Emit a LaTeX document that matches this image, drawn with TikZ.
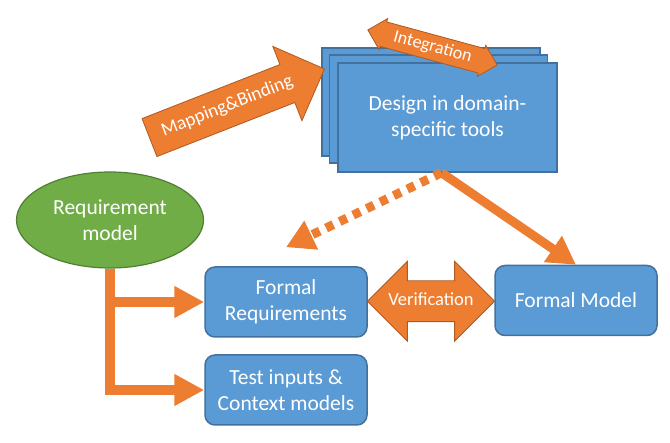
\documentclass[tikz,border=0pt]{standalone}
\usepackage{fontspec}
\setmainfont{Carlito}
\usetikzlibrary{positioning,arrows.meta,shapes.geometric,shapes.arrows,calc}
\definecolor{boxblue}{HTML}{5B9BD5}
\definecolor{boxline}{HTML}{41719C}
\definecolor{flow}{HTML}{ED7D31}
\definecolor{flowline}{HTML}{AE5A21}
\definecolor{reqgreen}{HTML}{70AD47}
\definecolor{reqline}{HTML}{507E32}
\tikzset{
    blk/.style={rectangle,draw=boxline,line width=1.5pt,fill=boxblue,rounded corners=10pt,minimum width=162pt,minimum height=70pt,align=center,text=white,font=\fontsize{21.5}{26}\selectfont},
    stack/.style={rectangle,draw=boxline,line width=1.5pt,fill=boxblue,minimum width=218pt,minimum height=108pt,inner sep=0pt},
    reqell/.style={ellipse,draw=reqline,line width=1.2pt,fill=reqgreen,minimum width=187pt,minimum height=96pt,align=center,text=white,font=\fontsize{21.5}{26}\selectfont},
    bigarr/.style={single arrow,draw=flowline,line width=0.8pt,fill=flow,text=white,single arrow head indent=0pt,inner xsep=0pt},
    dblarr/.style={double arrow,draw=flowline,line width=0.8pt,fill=flow,text=white,double arrow head indent=0pt,inner xsep=0pt},
    flowarr/.style={draw=flow,line width=10pt,-{Triangle[length=30pt,width=30pt]}},
}

\begin{document}
\begin{tikzpicture}[x=1pt,y=-1pt]
\useasboundingbox (0,0) rectangle (670,443);
% tool stack
\node[stack] (toolsback) at (431,102) {};
\node[stack] (toolsmid)  at (438.5,109) {};
\node[stack,minimum width=219pt,minimum height=109pt,align=center,text=white,font=\fontsize{21.5}{26}\selectfont] (tools) at (447.5,117.5) {Design in domain-\\specific tools};
\node[bigarr,rotate=21.4,minimum height=188pt,single arrow head extend=19.5pt,font=\fontsize{19}{22}\selectfont,text height=13pt,text depth=4.5pt,inner ysep=11.25pt] (mapbind) at (227.5,107) {Mapping\&Binding};
\node[dblarr,rotate=-15.2,minimum height=134pt,double arrow head extend=3.5pt,font=\fontsize{18}{21}\selectfont,text height=12.5pt,text depth=4pt,inner ysep=4pt] (integ) at (432.5,47.5) {Integration};
% requirements side
\node[reqell] (req)    at (110,220) {Requirement\\model};
\node[blk]    (freq)   at (286,302) {Formal\\Requirements};
\node[blk]    (test)   at (286,390) {Test inputs \&\\Context models};
\node[blk]    (fmodel) at (576,300.5) {Formal Model};
\node[dblarr,minimum height=126pt,double arrow head extend=19.5pt,font=\fontsize{18.5}{22}\selectfont,text height=13pt,text depth=4pt,inner ysep=11.5pt] (verif) at ($(freq.east)!0.5!(fmodel.west)$) {Verification};
% connectors
\draw[flowarr] (req.south) |- (freq.west);
\draw[flowarr] (req.south) |- (test.west);
\coordinate (fork) at ($(tools.south)+(-6,0)$);
\draw[flowarr,line width=9pt,-{Triangle[length=28pt,width=30pt]}] (fork) -- (fmodel.north);
\draw[flowarr,line width=9pt,dash pattern=on 8pt off 7pt,-{Triangle[length=28pt,width=30pt]}] (fork) -- ($(freq.north)+(0,-19)$);
\end{tikzpicture}
\end{document}
